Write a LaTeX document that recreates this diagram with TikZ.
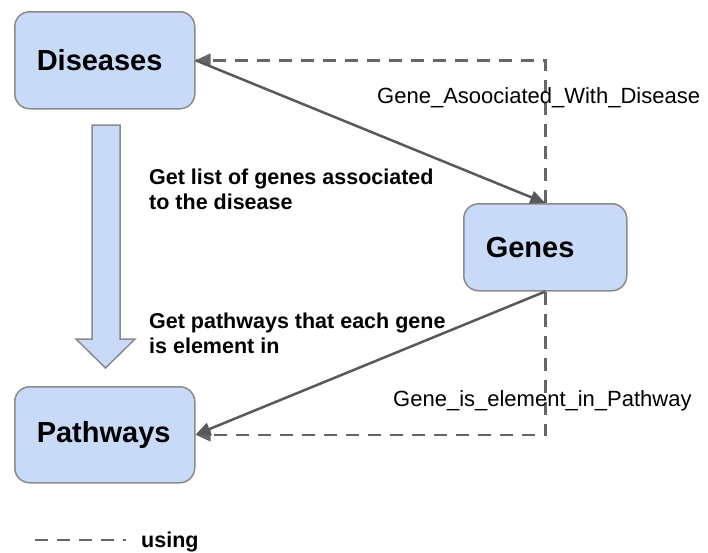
\documentclass[tikz,border=0pt]{standalone}
\usepackage{fontspec}
\setmainfont{Liberation Sans}
\usetikzlibrary{arrows.meta}
\definecolor{boxfill}{HTML}{C9DAF8}
\definecolor{boxline}{HTML}{8A8A8A}
\definecolor{linkgray}{HTML}{595959}
\definecolor{usegray}{HTML}{666666}
\tikzset{
  entity/.style={draw=boxline, line width=1.5pt, fill=boxfill, rounded corners=15pt,
    inner xsep=22pt, inner ysep=0pt, align=left, anchor=north west,
    font=\fontsize{29}{33}\selectfont\bfseries},
  link/.style={draw=linkgray, line width=2.5pt, -{Triangle[length=15pt,width=13pt]}},
  uses/.style={draw=usegray, line width=2.5pt, dash pattern=on 13pt off 9pt},
  usesarrow/.style={uses, -{Triangle[length=15pt,width=13pt]}},
  note/.style={anchor=base west, align=left, inner sep=0pt,
    font=\fontsize{21.5}{25}\selectfont\bfseries},
  relname/.style={anchor=base west, inner sep=0pt,
    font=\fontsize{22}{26}\selectfont},
}
\begin{document}
\begin{tikzpicture}[x=1pt, y=-1pt]
  \useasboundingbox (0,0) rectangle (708,552);

  % entity boxes
  \node[entity, text width=136pt, minimum height=97pt] (dis) at (14,11) {Diseases};
  \node[entity, text width=119pt, minimum height=87pt] (gen) at (463,203) {Genes};
  \node[entity, text width=136pt, minimum height=96pt] (pat) at (14,386) {Pathways};

  % query direction
  \draw[boxline, fill=boxfill, line width=1.5pt, line join=miter]
    (92,125) -- (120,125) -- (120,339) -- (135,339) -- (105.5,368)
    -- (76,339) -- (92,339) -- cycle;

  % "using" relations
  \draw[usesarrow] (gen.north) |- (dis.east);
  \draw[usesarrow] (gen.south) |- (pat.east);

  % traversal links
  \draw[link] (dis.east) -- (gen.north);
  \draw[link] (gen.south) -- (pat.east);

  % relation names
  \node[relname] (r1) at (377,103) {Gene\_Asoociated\_With\_Disease};
  \node[relname] (r2) at (393,406) {Gene\_is\_element\_in\_Pathway};

  % step descriptions (base anchor sits on the last line)
  \node[note] (n1) at (149,209) {Get list of genes associated\\to the disease};
  \node[note] (n2) at (149,353) {Get pathways that each gene\\is element in};

  % legend
  \coordinate (lg1) at (35,540);
  \coordinate (lg2) at (126,540);
  \draw[uses] (lg1) -- (lg2);
  \node[note] (lgt) at (141,547) {using};
\end{tikzpicture}
\end{document}
